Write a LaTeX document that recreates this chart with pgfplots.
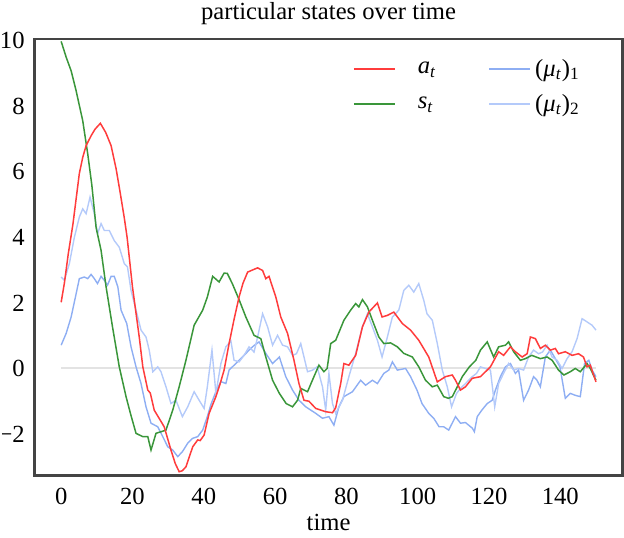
\documentclass[border=0pt]{standalone}
\usepackage{fontspec}
\setmainfont{Liberation Serif}
\usepackage{graphicx}
\usepackage{pgfplots}
\pgfplotsset{compat=1.18}

\definecolor{ared}{RGB}{255,60,60}
\definecolor{sgreen}{RGB}{58,150,58}
\definecolor{muone}{RGB}{142,174,243}
\definecolor{mutwo}{RGB}{180,202,250}
\definecolor{framegray}{RGB}{68,68,68}

\newcommand{\mn}{\scalebox{0.8}[1]{−}}

\begin{document}
\begin{tikzpicture}[font=\fontsize{12.3}{14.5}\selectfont]
\begin{axis}[
scale only axis,
width=294pt,
height=218pt,
xmin=-7.5, xmax=157.5,
ymin=-3.26, ymax=10.05,
axis line style={framegray, line width=1.3pt},
major tick length=0pt,
xtick={0,20,...,140},
ytick={-2,0,...,10},
yticklabels={\mn2,0,2,4,6,8,10},
/pgf/number format/assume math mode=true,
x tick label style={yshift=-3pt},
y tick label style={inner sep=0pt, xshift=-4.7pt},
title={particular states over time},
title style={at={(axis description cs:0.5,1)}, anchor=base, yshift=4pt, inner sep=1pt},
xlabel={time},
xlabel style={at={(axis description cs:0.5,0)}, anchor=base, yshift=-27.5pt, inner sep=3.5pt},
legend columns=2,
legend cell align=left,
legend image code/.code={\draw[#1] (0pt,0pt) -- (20.5pt,0pt); \path (20.5pt,0pt);},
legend style={at={(0.541,0.964)}, anchor=north west, draw=none, fill=none,
  inner sep=0pt, row sep=3.5pt,
  /tikz/every even column/.append style={column sep=24pt}},
]
% zero reference line
\addplot[gray!22, line width=1pt, forget plot] coordinates {(0,0) (150,0)};

% (mu_t)_1
\addplot[muone, line width=0.7pt, forget plot] coordinates {
(0,0.71) (1.4,1.07) (2.8,1.57) (4.2,2.28) (5.1,2.74) (6.5,2.79) (7.45,2.74) (8.4,2.87) (9.3,2.74) (10.2,2.59)
(11.2,2.81) (12.1,2.69) (13,2.54) (14,2.81) (14.9,2.81) (15.9,2.49) (16.8,1.78) (18.4,1.37) (19.6,0.66) (21,0.05)
(22.4,-0.46) (23.8,-1.17) (25.2,-1.67) (27.1,-1.78) (28.5,-2.08) (29.9,-2.39) (31.3,-2.49) (32.7,-2.69) (34,-2.54) (35.5,-2.28)
(36.9,-2.13) (38.3,-2.08) (39.7,-1.88) (41,-1.47) (42,-1.1) (43.4,-0.71) (44.8,-0.4) (46.2,-0.46) (47.1,-0.05) (48.5,0.1)
(49.9,0.25) (51.3,0.4) (52.7,0.56) (54.1,0.7) (55.5,0.81) (57.4,0.46) (59.3,0.15) (61.2,0.35) (63,-0.25) (64.9,-0.66)
(66.7,-0.97) (68.6,-1.17) (71.4,-1.37) (73.3,-1.52) (75.1,-1.47) (76.5,-1.73) (77.9,-1.17) (79.3,-0.86) (81.7,-0.71) (84,-0.36)
(85.4,-0.51) (87.3,-0.36) (88.7,-0.46) (90.5,-0.15) (91.9,-0.05) (92.9,0.2) (94.3,-0.05) (96.6,0.0) (98,-0.25) (99.8,-0.66)
(101.2,-1.07) (103.1,-1.37) (104.5,-1.52) (106,-1.78) (107.3,-1.78) (108.7,-1.88) (110.6,-1.47) (112,-1.67) (113.4,-1.65) (115.3,-1.82)
(115.9,-1.93) (116.7,-1.47) (118,-1.27) (119.5,-1.07) (120.9,-0.97) (121.8,-0.66) (123.2,-0.25) (124.6,0.05) (126,0.15) (127.4,-0.15)
(128.3,-0.05) (129.7,-0.97) (131.1,-0.66) (132.5,-0.25) (133.4,-0.35) (134.4,-0.56) (135.8,0.35) (137.2,0.56) (138.6,0.3) (139.9,0.05)
(141.4,-0.91) (142.8,-0.76) (144.2,-0.82) (145.6,-0.86) (146.8,0.15) (148,0.25) (148.9,-0.05) (150,-0.25)
};

% (mu_t)_2
\addplot[mutwo, line width=0.7pt, forget plot] coordinates {
(0,2.79) (0.9,2.69) (2.3,3.2) (3.7,4.0) (5.1,4.62) (6.05,4.87) (7,4.72) (8.1,5.23) (9.3,4.72) (10.2,4.11)
(11.2,4.42) (12.1,4.21) (13.5,4.21) (14.9,3.9) (16.3,3.7) (17.7,3.2) (18.6,3.1) (19.6,2.38) (21,1.78) (22.4,1.17)
(23.8,0.96) (24.7,0.56) (25.7,-0.1) (27.1,0.05) (28,-0.1) (29.4,-0.56) (30.8,-1.07) (32.2,-0.97) (34,-1.47) (35.5,-1.17)
(37.3,-0.71) (38.7,-0.97) (40.1,-1.22) (41,-0.56) (42.3,0.56) (43.4,-0.76) (44.8,0.15) (46.2,0.66) (47.6,0.84) (48.5,0.25)
(49.9,0.2) (51.3,0.4) (52.7,0.66) (54.1,0.5) (55.1,0.96) (56.5,1.67) (57.9,1.27) (59.3,0.71) (60.7,1.01) (62.1,0.71)
(63.5,0.66) (64.9,0.4) (66,0.45) (67.2,0.76) (69.1,-0.1) (70.5,-0.05) (71.8,0.05) (73.3,-0.56) (74.2,-1.27) (75.1,-0.15)
(76.1,-1.07) (77,-1.37) (78.9,-0.97) (80.7,-0.25) (82.6,0.46) (84.5,1.27) (85.9,1.67) (87.3,1.27) (88.7,0.86) (90,0.35)
(91.5,0.96) (92.9,1.57) (94.7,1.78) (96.1,2.38) (97.5,2.54) (98.9,2.33) (100.3,2.59) (101.7,2.08) (102.6,1.67) (104.1,1.47)
(105.5,0.76) (106.9,-0.05) (108.3,-0.56) (109.5,-1.17) (110.9,-0.76) (112,-0.61) (113.4,-0.46) (115.3,-0.25) (116.5,-0.15) (117.6,0.05)
(119,0.0) (120.4,-0.05) (121.6,-1.17) (122.7,-0.46) (124.1,-0.15) (125.5,0.15) (126.9,-0.05) (128.3,0.0) (129.7,-0.05) (131.1,0.35)
(132.5,0.56) (133.9,0.45) (135,0.5) (136.3,0.71) (137.7,0.35) (139.1,0.25) (140.5,0.0) (141.9,0.3) (143.3,0.51) (144.7,0.91)
(146.1,1.52) (147.5,1.42) (148.9,1.32) (150,1.17)
};

% s_t
\addplot[sgreen, line width=0.75pt, forget plot] coordinates {
(0,9.98) (1.4,9.5) (2.8,9.08) (4.2,8.47) (6.05,7.56) (7.45,6.55) (8.6,5.6) (9.8,4.3) (11.2,3.6) (12.6,2.49)
(14.4,1.27) (16.3,0.05) (18.2,-0.86) (19.5,-1.4) (21,-1.98) (22.9,-2.08) (24.3,-2.08) (25.2,-2.49) (26.6,-1.98) (28,-1.93)
(29.4,-1.88) (31.3,-1.27) (33.1,-0.56) (35,0.25) (37.3,1.32) (39.7,1.78) (41,2.18) (42.5,2.81) (44.3,2.64) (45.7,2.91)
(46.6,2.9) (48,2.59) (49.9,2.1) (51.8,1.57) (54.1,1.01) (56,0.91) (57.4,0.35) (59.3,-0.36) (61.2,-0.76) (63.1,-1.07)
(64.9,-1.17) (66.3,-0.97) (67.2,-0.61) (69.1,-0.71) (70.9,-0.25) (72.3,0.1) (73.7,-0.1) (74.6,0.0) (75.6,0.76) (77,0.86)
(79.3,1.47) (81.2,1.78) (82.6,1.98) (83.5,1.88) (84.5,2.1) (85.9,1.88) (87.3,1.47) (89.1,0.96) (90.5,0.76) (92.4,0.78)
(94.3,0.66) (96.1,0.46) (98.5,0.35) (100.3,0.05) (102.2,-0.36) (104.1,-0.56) (105.5,-0.51) (107.3,-0.86) (108.6,-0.91) (109.7,-0.86)
(111.1,-0.56) (112.5,-0.25) (114.5,0.05) (116.3,0.25) (117.6,0.56) (119.5,0.81) (121.3,0.35) (122.7,0.66) (124.6,0.71) (125.5,0.81)
(126.9,0.51) (128.8,0.25) (130.2,0.3) (132,0.4) (134.4,0.3) (136.3,0.35) (137.7,0.25) (139.5,-0.05) (141,-0.2) (142.8,-0.1)
(144.2,0.0) (145.6,-0.1) (147.5,0.15) (148.4,0.0) (150,-0.36)
};

% a_t
\addplot[ared, line width=0.75pt, forget plot] coordinates {
(0,2.02) (0.9,2.6) (2,3.5) (3.3,4.4) (5.1,5.95) (6.05,6.44) (7,6.8) (8.4,7.1) (9.5,7.3) (11,7.48)
(12.5,7.2) (14,6.8) (15.4,6.1) (16.5,5.4) (17.7,4.6) (18.5,4.0) (20,2.49) (21.9,0.96) (22.9,0.05) (24.3,-0.66)
(25,-0.75) (26.1,-1.27) (28.9,-1.78) (30.8,-2.49) (32,-2.9) (33.1,-3.15) (34,-3.12) (35,-3.0) (36.9,-2.39) (38.3,-2.18)
(39,-2.2) (40.1,-2.03) (41.5,-1.37) (43.4,-0.86) (44.5,-0.5) (45.7,-0.05) (47.1,0.76) (48.5,1.5) (49.9,2.18) (51,2.6)
(52.3,2.94) (54,3.02) (55.1,3.07) (56.5,2.99) (57.4,2.74) (58.3,2.81) (60.2,2.18) (61.6,1.57) (63.5,1.07) (65.3,0.25)
(66.7,-0.46) (68.1,-0.97) (69.5,-1.0) (71.4,-1.22) (74.2,-1.32) (76.1,-1.35) (77,-1.2) (78.4,-0.46) (79.3,0.15) (80.7,0.1)
(82.6,0.4) (84.5,1.27) (86.3,1.72) (88.7,2.0) (90,1.57) (91.5,1.62) (93.3,1.72) (95.7,1.37) (98,1.17) (100.3,0.86)
(103.1,0.35) (105.5,-0.41) (107.8,-0.25) (109.7,-0.2) (110.6,-0.36) (112,-0.66) (113.4,-0.56) (115.3,-0.3) (117.6,-0.25) (120.4,0.05)
(122.7,0.51) (124.1,0.4) (126,0.66) (127.4,0.51) (129.3,0.35) (130.7,0.45) (131.6,0.96) (133,0.91) (134.4,0.61) (135.8,0.71)
(137.2,0.56) (138.6,0.61) (139.5,0.45) (141.4,0.51) (143.3,0.4) (145.1,0.45) (146.5,0.35) (147.5,0.05) (148.4,0.1) (150,-0.41)
};

% legend, row by row: a_t, (mu_t)_1 / s_t, (mu_t)_2
\addlegendimage{ared, line width=0.9pt}
\addlegendentry{\hspace{9pt}\textit{a}\textsubscript{\textit{t}}}
\addlegendimage{muone, line width=0.9pt}
\addlegendentry{(\textit{μ}\textsubscript{\textit{t}})\textsubscript{1}}
\addlegendimage{sgreen, line width=0.9pt}
\addlegendentry{\hspace{9pt}\textit{s}\textsubscript{\textit{t}}}
\addlegendimage{mutwo, line width=0.9pt}
\addlegendentry{(\textit{μ}\textsubscript{\textit{t}})\textsubscript{2}}
\end{axis}
\end{tikzpicture}
\end{document}
